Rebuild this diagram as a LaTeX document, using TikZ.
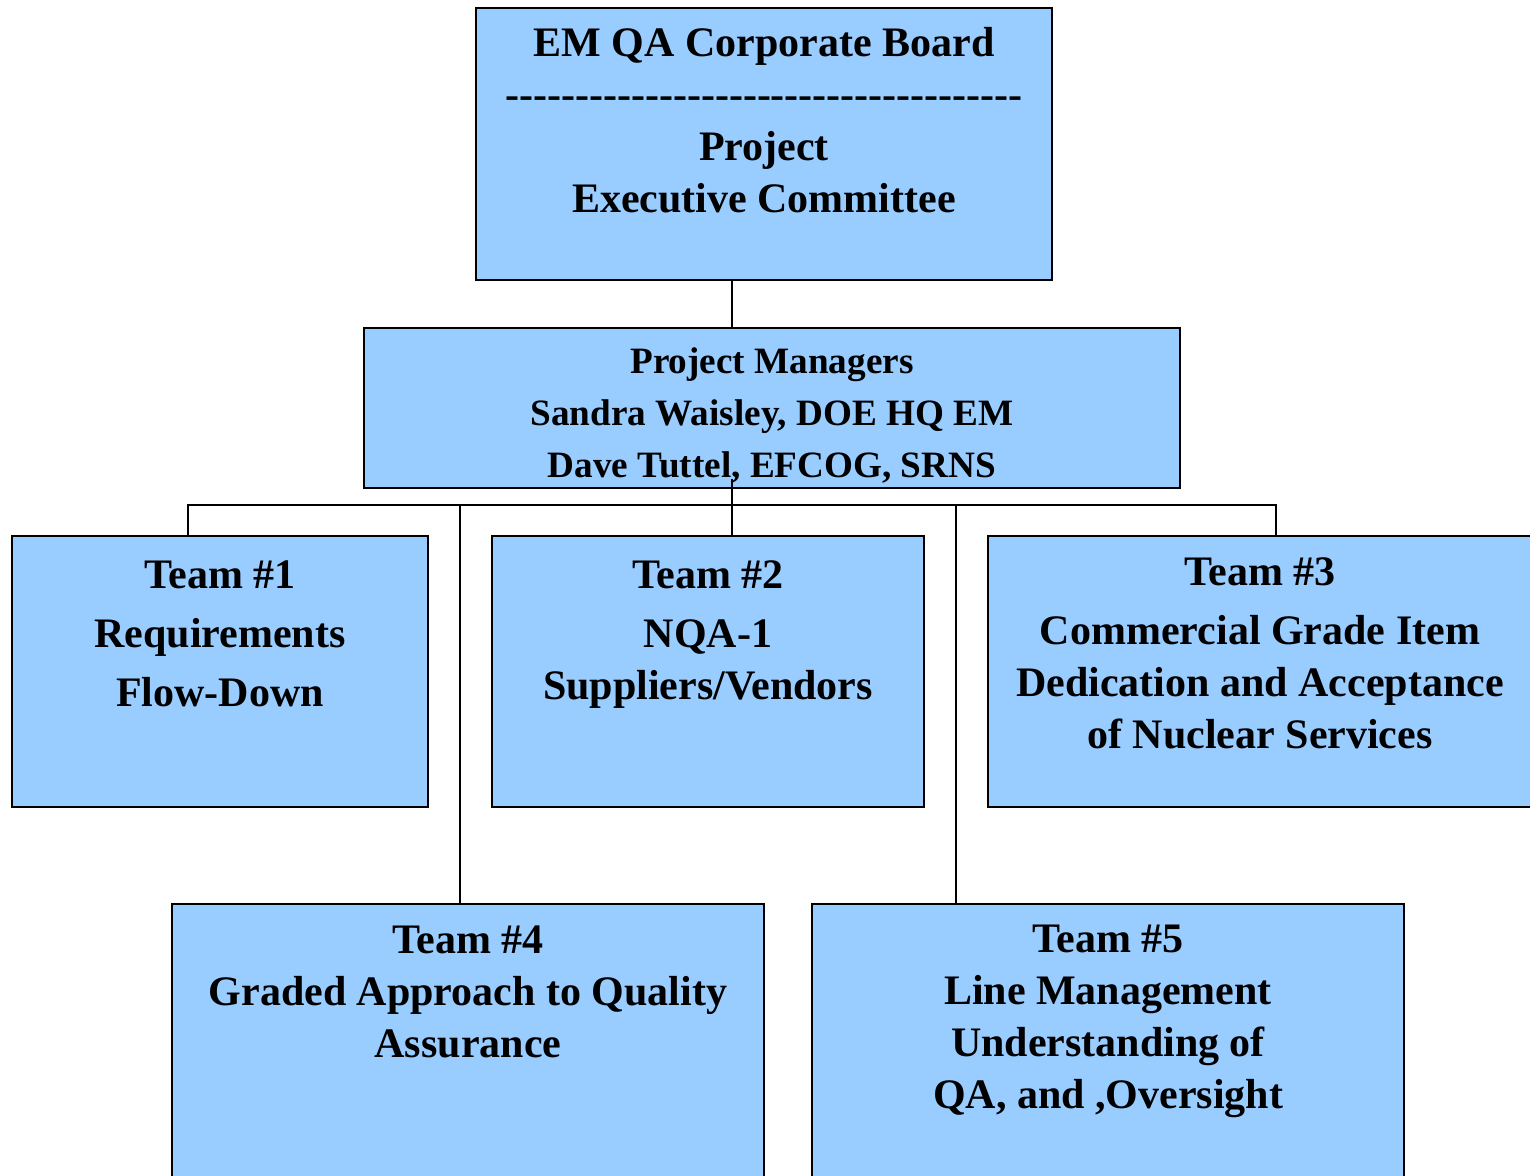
\documentclass[tikz,border=0pt]{standalone}
\usepackage{fontspec}
\setmainfont{Liberation Serif}
\definecolor{boxblue}{HTML}{99CCFF}
\newcommand\dashrow{\foreach \k in {1,...,37}{-\kern0pt}}

\begin{document}
\begin{tikzpicture}[x=.5pt, y=-.5pt,
  box/.style={draw, line width=1pt, fill=boxblue, inner sep=0pt},
  txt/.style={anchor=base, align=center, inner sep=0pt, font=\fontsize{21}{26}\selectfont\bfseries},
  pmtxt/.style={txt, font=\fontsize{18.6}{26}\selectfont\bfseries},
  link/.style={draw, line width=1pt}]
\useasboundingbox (0,0) rectangle (1530,1175);
\clip (0,0) rectangle (1530,1175);

% boxes
\node[box, minimum width=288pt, minimum height=136pt] (board) at (764,144) {};
\node[box, minimum width=408pt, minimum height=80pt] (pm) at (772,408) {};
\node[box, minimum width=208pt, minimum height=135.5pt] (t1) at (220,671.5) {};
\node[box, minimum width=216pt, minimum height=135.5pt] (t2) at (708,671.5) {};
\node[box, minimum width=278.5pt, minimum height=135.5pt] (t3) at (1266.5,671.5) {};
\node[box, minimum width=296pt, minimum height=143pt] (t4) at (468,1047) {};
\node[box, minimum width=296pt, minimum height=143pt] (t5) at (1108,1047) {};

% texts (base = last line)
\node[txt] (board-t) at (764,212) {EM QA Corporate Board\\\dashrow\\Project\\Executive Committee};
\node[pmtxt] (pm-t) at (772,477) {Project Managers\\Sandra Waisley, DOE HQ EM\\Dave Tuttel, EFCOG, SRNS};
\node[txt] (t1-t) at (220,706) {Team \#1\\[3.5pt]Requirements\\[3.5pt]Flow-Down};
\node[txt] (t2-t) at (708,699) {Team \#2\\[3.5pt]NQA-1\\Suppliers/Vendors};
\node[txt] (t3-t) at (1260,748) {Team \#3\\[3.5pt]Commercial Grade Item\\Dedication and Acceptance\\of Nuclear Services};
\node[txt] (t4-t) at (468,1057) {Team \#4\\Graded Approach to Quality\\Assurance};
\node[txt] (t5-t) at (1108,1108) {Team \#5\\Line Management\\Understanding of\\QA, and ,Oversight};

% connectors
\coordinate (bus) at ([yshift=-8pt]pm.south);
\draw[link] ([xshift=-16pt]board.south) -- ([xshift=-16pt]board.south |- pm.north);
\draw[link] ([xshift=-16pt]t1.north) |- ([xshift=4.75pt]t3.north |- bus) -- ([xshift=4.75pt]t3.north);
\draw[link] ([xshift=12pt]t2.north) -- ([xshift=12pt, yshift=5pt]t2.north |- pm.south);
\draw[link] ([xshift=-4pt]t4.north) -- ([xshift=-4pt]t4.north |- bus);
\draw[link] ([xshift=-76pt]t5.north) -- ([xshift=-76pt]t5.north |- bus);
\end{tikzpicture}
\end{document}
